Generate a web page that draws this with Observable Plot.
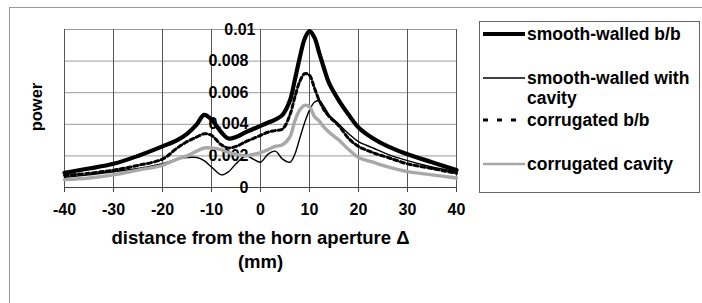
<!DOCTYPE html>
<html>
<head>
<meta charset="utf-8">
<script src="https://cdn.jsdelivr.net/npm/d3@7"></script>
<script src="https://cdn.jsdelivr.net/npm/@observablehq/plot@0.6"></script>
<style>
  html, body { margin: 0; padding: 0; background: #fff; }
  #wrap { position: relative; width: 702px; height: 303px; overflow: hidden; font-family: "Liberation Sans", Arial, sans-serif; font-weight: bold; }
  #frame { position: absolute; left: 9px; top: 7px; width: 800px; height: 400px; border-left: 1px solid #9a9a9a; border-top: 1px solid #9a9a9a; }
  #legend { position: absolute; left: 479px; top: 21px; width: 219px; height: 170px; border: 1px solid #666; background: #fff; }
  #chart { position: absolute; left: 0; top: 0; }
  #ytitle { position: absolute; left: 36px; top: 107px; transform: translate(-50%, -50%) rotate(-90deg); font-size: 16.5px; white-space: nowrap; color: #000; }
</style>
</head>
<body>
<div id="wrap">
  <div id="frame"></div>
  <div id="chart"></div>
  <div id="ytitle"></div>
  <div id="legend"></div>
</div>
<script>
// distance from the horn aperture (mm)
const distance = [-40,-35,-30,-25,-20,-17,-15,-13,-11.5,-10,-8,-6.5,-5,-3,-1.5,0,1.5,3,4.5,6,7,8,9,10,11,12,13,14,16,18,20,23,26,30,35,40];

const smoothWalledBB = [0.00093,0.0012,0.0015,0.0020,0.0026,0.0030,0.0034,0.0040,0.0046,0.0043,0.0035,0.0031,0.0032,0.0035,0.0037,0.0039,0.0041,0.0043,0.0046,0.0055,0.0068,0.0082,0.0094,0.0099,0.0095,0.0085,0.0075,0.0066,0.0055,0.0046,0.0038,0.0031,0.0026,0.0021,0.0016,0.0011];

const smoothWalledCavity = [0.00065,0.0008,0.0010,0.0012,0.0015,0.0018,0.0019,0.0019,0.0017,0.0013,0.0008,0.0010,0.0015,0.0020,0.0018,0.0016,0.0021,0.0023,0.0018,0.0016,0.0021,0.0031,0.0041,0.0049,0.0054,0.0055,0.0051,0.0046,0.0040,0.0034,0.0029,0.0025,0.0021,0.0017,0.0013,0.0010];

const corrugatedBB = [0.00076,0.0009,0.0011,0.0014,0.0018,0.0025,0.0029,0.0032,0.0034,0.0033,0.0027,0.0025,0.0026,0.0029,0.0031,0.0033,0.0035,0.0036,0.0037,0.0046,0.0057,0.0067,0.0072,0.0071,0.0063,0.0055,0.0049,0.0045,0.0039,0.0031,0.0026,0.0022,0.0019,0.0015,0.0012,0.0009];

const corrugatedCavity = [0.0005,0.0006,0.0008,0.0011,0.0014,0.0018,0.0020,0.0023,0.0025,0.0025,0.0024,0.0022,0.0021,0.0020,0.0021,0.0022,0.0024,0.0026,0.0027,0.0032,0.0042,0.0049,0.0052,0.0051,0.0045,0.0042,0.0038,0.0035,0.0030,0.0024,0.0019,0.0016,0.0013,0.0010,0.0008,0.0006];

const seriesNames = ["smooth-walled b/b", "smooth-walled with cavity", "corrugated b/b", "corrugated cavity"];
const xTicks = [-40,-30,-20,-10,0,10,20,30,40];
const yTicks = [0,0.002,0.004,0.006,0.008,0.01];
const yTickLabels = ["0","0.002","0.004","0.006","0.008","0.01"];
const xTitle = ["distance from the horn aperture \u0394", "(mm)"];
const yTitle = "power";

const toRows = vals => distance.map((d, i) => ({x: d, y: vals[i]}));
const styles = [
  {stroke: "#000", strokeWidth: 4.2},
  {stroke: "#000", strokeWidth: 1.4},
  {stroke: "#000", strokeWidth: 3, strokeDasharray: "4,3"},
  {stroke: "#a8a8a8", strokeWidth: 3.4}
];
const valuesList = [smoothWalledBB, smoothWalledCavity, corrugatedBB, corrugatedCavity];
const tickFont = {fontSize: 16, fontWeight: "bold", fill: "#000"};

const chart = Plot.plot({
  width: 702,
  height: 303,
  marginLeft: 64,
  marginRight: 246,
  marginTop: 29,
  marginBottom: 116,
  x: {domain: [-40, 40], axis: null},
  y: {domain: [0, 0.01], axis: null},
  style: {fontFamily: "'Liberation Sans', Arial, sans-serif", fontWeight: "bold", background: "transparent", color: "#000"},
  marks: [
    Plot.gridY(yTicks.slice(1), {stroke: "#9a9a9a", strokeOpacity: 1, strokeWidth: 1}),
    Plot.gridX(xTicks, {stroke: "#555", strokeOpacity: 1, strokeWidth: 1}),
    Plot.ruleY([0], {stroke: "#444", strokeWidth: 1}),
    Plot.axisX(xTicks, {tickSize: 5, tickPadding: 11, fontSize: 16, fontWeight: "bold", label: null, tickFormat: d => String(d), stroke: "#444"}),
    Plot.text(yTicks.slice(0, -1), {x: 0, y: d => d, text: (d, i) => yTickLabels[i], textAnchor: "end", dx: -12, ...tickFont}),
    Plot.text(yTicks.slice(-1), {x: 0, y: d => d, text: () => yTickLabels[yTickLabels.length - 1], textAnchor: "end", dx: -5, ...tickFont}),
    Plot.text([xTitle[0]], {frameAnchor: "bottom", dy: 51, fontSize: 18.5, fontWeight: "bold", fill: "#000", lineAnchor: "middle"}),
    Plot.text([xTitle[1]], {frameAnchor: "bottom", dy: 75, fontSize: 18.5, fontWeight: "bold", fill: "#000", lineAnchor: "middle"}),
    ...valuesList.map((vals, i) => Plot.line(toRows(vals), {x: "x", y: "y", curve: "catmull-rom", ...styles[i]}))
  ]
});
document.getElementById("chart").appendChild(chart);
document.getElementById("ytitle").textContent = yTitle;

// Legend
const legendEntries = [
  {lines: ["smooth-walled b/b"], y: 12},
  {lines: ["smooth-walled with", "cavity"], y: 56},
  {lines: ["corrugated b/b"], y: 98},
  {lines: ["corrugated cavity"], y: 142}
];
const ns = "http://www.w3.org/2000/svg";
const lsvg = document.createElementNS(ns, "svg");
lsvg.setAttribute("width", 219);
lsvg.setAttribute("height", 170);
legendEntries.forEach((e, i) => {
  const ln = document.createElementNS(ns, "line");
  ln.setAttribute("x1", 3); ln.setAttribute("x2", 45);
  ln.setAttribute("y1", e.y); ln.setAttribute("y2", e.y);
  ln.setAttribute("stroke", styles[i].stroke);
  ln.setAttribute("stroke-width", i === 2 ? 3 : i === 0 ? 4.2 : i === 1 ? 1.4 : 2.5);
  if (i === 2) ln.setAttribute("stroke-dasharray", "5,9");
  lsvg.appendChild(ln);
  e.lines.forEach((t, j) => {
    const tx = document.createElementNS(ns, "text");
    tx.setAttribute("x", 47);
    tx.setAttribute("y", e.y + j * 20);
    tx.setAttribute("dy", "0.35em");
    tx.setAttribute("font-size", 17.5);
    tx.setAttribute("font-weight", "bold");
    tx.setAttribute("font-family", "'Liberation Sans', Arial, sans-serif");
    tx.textContent = t;
    lsvg.appendChild(tx);
  });
});
document.getElementById("legend").appendChild(lsvg);
</script>
</body>
</html>
